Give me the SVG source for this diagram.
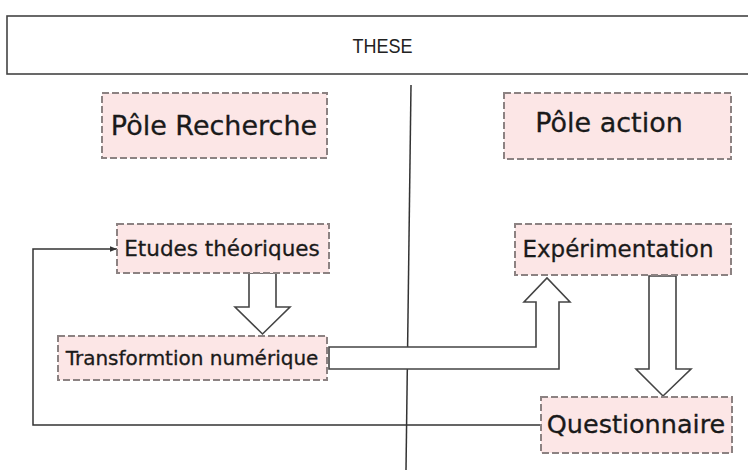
<svg xmlns="http://www.w3.org/2000/svg" width="748" height="475" viewBox="0 0 748 475">
<style>
.node rect{fill:#fce6e6;stroke:#8c8282;stroke-width:2;stroke-dasharray:7 3}
.node text{font-family:"DejaVu Sans",Verdana,sans-serif;fill:#1a1a1a;stroke:#1a1a1a;stroke-width:0.3}
.blk{fill:#fff;stroke:#444;stroke-width:1.6;stroke-linejoin:miter}
.ln{fill:none;stroke:#333;stroke-width:1.5}
</style>
<defs>
<marker id="ah" viewBox="0 0 10 10" refX="10" refY="5" markerWidth="7" markerHeight="7" orient="auto" markerUnits="userSpaceOnUse">
<path d="M0,1 L10,5 L0,9 z" fill="#333"/>
</marker>
</defs>
<rect width="748" height="475" fill="#fff"/>
<g id="these">
<rect x="7" y="16" width="750" height="58" fill="#fff" stroke="#444" stroke-width="1.6"/>
<text x="382.5" y="53" text-anchor="middle" font-family="'Liberation Sans',Arial,sans-serif" font-size="21" textLength="60" lengthAdjust="spacingAndGlyphs" fill="#222">THESE</text>
</g>
<g id="connectors">
<line class="ln" x1="411" y1="85" x2="406" y2="470"/>
<path class="blk" d="M249,273 L276,273 L276,307 L290,307 L262.5,334 L235,307 L249,307 z"/>
<path class="blk" d="M329,347 L536,347 L536,302 L524,302 L547,278 L570,302 L559,302 L559,369 L329,369 z"/>
<path class="blk" d="M649,276 L676,276 L676,369 L691,369 L663,396 L636,369 L649,369 z"/>
<path class="ln" d="M541,425 L33,425 L33,249 L117,249" marker-end="url(#ah)"/>
</g>
<g id="pole-recherche" class="node">
<rect x="102" y="93" width="225" height="65"/>
<text x="214" y="135" font-size="27" text-anchor="middle">Pôle Recherche</text>
</g>
<g id="pole-action" class="node">
<rect x="504" y="93" width="227" height="66"/>
<text x="609" y="132" font-size="27" text-anchor="middle">Pôle action</text>
</g>
<g id="etudes" class="node">
<rect x="117" y="224" width="212" height="49"/>
<text x="222" y="256" font-size="21.5" text-anchor="middle">Etudes théoriques</text>
</g>
<g id="experimentation" class="node">
<rect x="515" y="224" width="216" height="51"/>
<text x="618" y="257" font-size="23" text-anchor="middle">Expérimentation</text>
</g>
<g id="transformation" class="node">
<rect x="58" y="336" width="269" height="44"/>
<text x="192" y="365" font-size="20" text-anchor="middle">Transformtion numérique</text>
</g>
<g id="questionnaire" class="node">
<rect x="541" y="397" width="191" height="56"/>
<text x="636" y="433" font-size="25.5" text-anchor="middle">Questionnaire</text>
</g>
</svg>
